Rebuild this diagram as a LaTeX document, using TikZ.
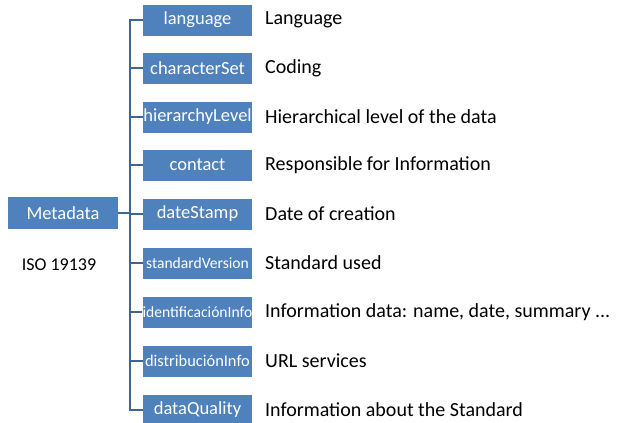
\documentclass[tikz,border=0pt]{standalone}
\usepackage{fontspec}
\setmainfont{Carlito}
\usetikzlibrary{positioning}
\definecolor{boxBlue}{HTML}{4F81BD}
\definecolor{lineBlue}{HTML}{3F6596}
\tikzset{
    metaBox/.style={rectangle, fill=boxBlue, text=white, minimum width=109pt, minimum height=31pt, inner sep=0pt, font=\fontsize{18.5}{20}\selectfont},
    rootBox/.style={metaBox, minimum width=110pt, minimum height=32pt},
    metaText/.style={anchor=west, inner sep=0pt, font=\fontsize{20}{22}\selectfont},
    treeLine/.style={draw=lineBlue, line width=2.4pt},
}
\newcommand{\drawItem}[5][]{
    \node[metaBox, #1] (#2) at (197.5, #3) {#4};
    \node[metaText] (#2Text) at (265, #3) {#5};
}
\newcommand{\drawTick}[1]{
    \draw[treeLine] (#1.west) -- ++(-13, 0);
}
\begin{document}
\begin{tikzpicture}[x=1pt, y=-1pt]
        \useasboundingbox (0, 0) rectangle (619, 423);

        \node[rootBox] (metadata) at (63, 213) {Metadata};
        \node[inner sep=0pt, font=\fontsize{18}{20}\selectfont] (iso) at (59, 265) {ISO 19139};

        \drawItem{language}{20}{language}{Language}
        \drawItem{characterSet}{68}{characterSet}{Coding}
        \drawItem[font=\fontsize{18.5}{20}\selectfont]{hierarchyLevel}{117}{hierarchyLevel}{Hierarchical level of the data}
        \drawItem{contact}{165}{contact}{Responsible for Information}
        \drawItem{dateStamp}{214}{dateStamp}{Date of creation}
        \drawItem[font=\fontsize{15.6}{17}\selectfont]{standardVersion}{263}{standardVersion}{Standard used}
        \drawItem[font=\fontsize{15.6}{17}\selectfont]{identInfo}{312}{identificaciónInfo}{Information data: name, date, summary ...}
        \drawItem[font=\fontsize{16.4}{18}\selectfont]{distInfo}{361}{distribuciónInfo}{URL services}
        \drawItem{dataQuality}{410}{dataQuality}{Information about the Standard}

        % tronco del arbol
        \draw[treeLine] (language.west) -- ++(-13, 0) |- (dataQuality.west);
        \drawTick{characterSet}
        \drawTick{hierarchyLevel}
        \drawTick{contact}
        \drawTick{dateStamp}
        \drawTick{standardVersion}
        \drawTick{identInfo}
        \drawTick{distInfo}
        \draw[treeLine] (metadata.east) -- ++(12, 0);

    \end{tikzpicture}
\end{document}
